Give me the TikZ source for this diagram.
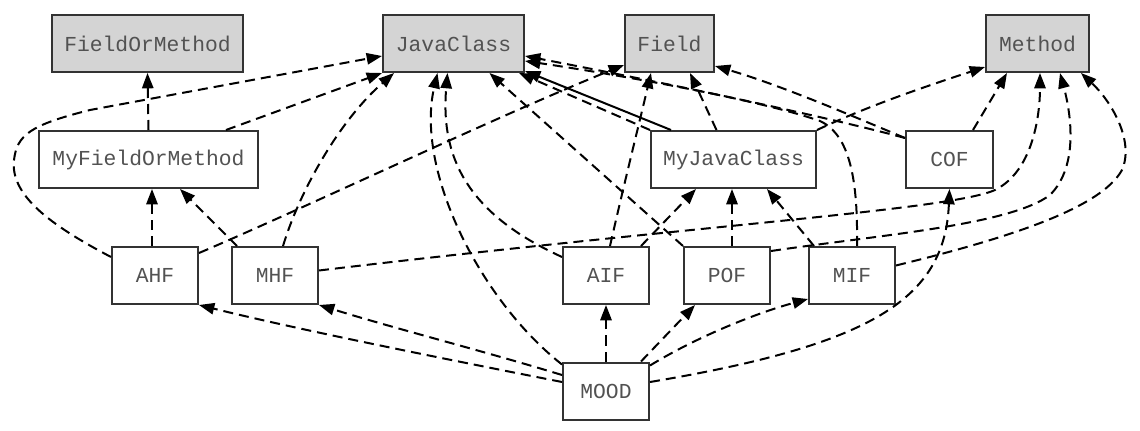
\documentclass[tikz,border=0pt]{standalone}
\usepackage{fontspec}
\setmonofont{Liberation Mono}
\usetikzlibrary{arrows.meta,calc}
\begin{document}
\begin{tikzpicture}[x=0.75pt,y=-0.75pt,
 box/.style={draw=black!80, line width=1.5pt, minimum height=42.75pt, inner sep=0pt, font=\ttfamily\fontsize{16}{19}\selectfont, text=black!68},
 cls/.style={box, fill=black!17},
 dep/.style={line width=1.5pt, dash pattern=on 7.5pt off 4.5pt, -{Triangle[length=11.5pt,width=8.5pt]}},
 inh/.style={line width=1.5pt, -{Triangle[length=11.5pt,width=8.5pt]}}]
\useasboundingbox (0,0) rectangle (1140,431);
% nodes
\node[cls, minimum width=143.25pt] (FOM) at (147.5,43.5) {FieldOrMethod};
\node[cls, minimum width=105.75pt] (JC) at (453.5,43.5) {JavaClass};
\node[cls, minimum width=66.75pt] (Field) at (669.5,43.5) {Field};
\node[cls, minimum width=77.25pt] (Method) at (1037.5,43.5) {Method};
\node[box, minimum width=164.25pt] (MyFOM) at (148.5,159.5) {MyFieldOrMethod};
\node[box, minimum width=123.75pt] (MyJC) at (733.5,159.5) {MyJavaClass};
\node[box, minimum width=65.25pt] (COF) at (949.5,159.5) {COF};
\node[box, minimum width=64.5pt] (AHF) at (155,275.5) {AHF};
\node[box, minimum width=64.5pt] (MHF) at (275,275.5) {MHF};
\node[box, minimum width=64.5pt] (AIF) at (606,275.5) {AIF};
\node[box, minimum width=64.5pt] (POF) at (727,275.5) {POF};
\node[box, minimum width=64.5pt] (MIF) at (852,275.5) {MIF};
\node[box, minimum width=64.5pt] (MOOD) at (606,391) {MOOD};
% MyFieldOrMethod
\draw[dep] (MyFOM.north) -- (FOM.south);
\draw[dep] ($(MyFOM.north west)+(188,0)$) -- (JC.south west);
% AHF
\draw[dep] ($(AHF.north west)+(0,11)$) .. controls (50,225) and (10,195) .. (14,160) .. controls (17,135) and (30,125) .. (90,110) -- ($(JC.north west)+(0,42)$);
\draw[dep] ($(AHF.north)+(-3,0)$) -- ($(MyFOM.south)+(3.5,0)$);
\draw[dep] ($(AHF.north east)+(0,7)$) .. controls (300,210) and (500,115) .. ($(Field.south west)+(0,-8)$);
% MHF
\draw[dep] ($(MHF.north west)+(6,0)$) -- ($(MyFOM.south west)+(142,0)$);
\draw[dep] ($(MHF.north)+(8,0)$) .. controls (300,190) and (340,120) .. ($(JC.south west)+(12,0)$);
\draw[dep] ($(MHF.east)+(0,-5)$) .. controls (700,225) and (950,210) .. (995,190) .. controls (1035,170) and (1040,110) .. ($(Method.south)+(2.5,0)$);
% POF, MIF, COF, MyJavaClass -> Method
\draw[dep] ($(POF.north east)+(0,5)$) .. controls (880,235) and (1010,225) .. (1050,195) .. controls (1080,165) and (1070,110) .. ($(Method.south)+(22.5,0)$);
\draw[dep] ($(MIF.east)+(0,-10)$) .. controls (1000,240) and (1100,210) .. (1122,170) .. controls (1135,140) and (1110,100) .. ($(Method.south east)+(-9,0)$);
\draw[dep] ($(COF.north)+(23.5,0)$) -- ($(Method.south west)+(22,0)$);
\draw[dep] (MyJC.north east) .. controls (870,105) and (930,85) .. ($(Method.south west)+(0,-6)$);
% COF
\draw[dep] ($(COF.north west)+(0,8)$) .. controls (820,115) and (650,80) .. ($(JC.north east)+(0,42)$);
\draw[dep] ($(COF.north west)+(0,8)$) .. controls (850,115) and (780,85) .. ($(Field.south east)+(0,-7)$);
% MIF -> JavaClass
\draw[dep] ($(MIF.north)+(5,0)$) .. controls (858,180) and (850,135) .. (820,121) .. controls (760,100) and (620,75) .. ($(JC.north east)+(0,47)$);
% MyJavaClass
\draw[inh] ($(MyJC.north west)+(21,0)$) -- ($(JC.south east)+(0,-2)$);
\draw[dep] (MyJC.north west) -- ($(JC.south east)+(-6,0)$);
\draw[dep] ($(MyJC.north)+(-17,0)$) -- ($(Field.south)+(20.5,0)$);
% AIF
\draw[dep] ($(AIF.north west)+(0,11)$) .. controls (470,215) and (440,160) .. ($(JC.south)+(-6,0)$);
\draw[dep] ($(AIF.north)+(4,0)$) .. controls (625,180) and (640,120) .. ($(Field.south west)+(27,0)$);
\draw[dep] ($(AIF.north east)+(-9,0)$) -- ($(MyJC.south west)+(46,0)$);
% POF
\draw[dep] (POF.north west) -- ($(JC.south)+(36,0)$);
\draw[dep] ($(POF.north)+(5,0)$) -- ($(MyJC.south)+(-1.5,0)$);
% MIF
\draw[dep] ($(MIF.north west)+(6,0)$) -- ($(MyJC.south west)+(117,0)$);
% MOOD
\draw[dep] ($(MOOD.north west)+(0,3)$) .. controls (480,300) and (415,170) .. ($(JC.south)+(-16,0)$);
\draw[dep] (MOOD.north) -- (AIF.south);
\draw[dep] ($(MOOD.north east)+(-9,0)$) -- ($(POF.south west)+(12,0)$);
\draw[dep] ($(MOOD.north east)+(0,4)$) .. controls (700,335) and (760,312) .. ($(MIF.south west)+(0,-6)$);
\draw[dep] ($(MOOD.east)+(0,-9)$) .. controls (870,345) and (945,300) .. (COF.south);
\draw[dep] ($(MOOD.west)+(0,-9)$) .. controls (450,360) and (300,330) .. (AHF.south east);
\draw[dep] ($(MOOD.west)+(0,-16)$) .. controls (480,350) and (400,330) .. (MHF.south east);
\end{tikzpicture}
\end{document}
